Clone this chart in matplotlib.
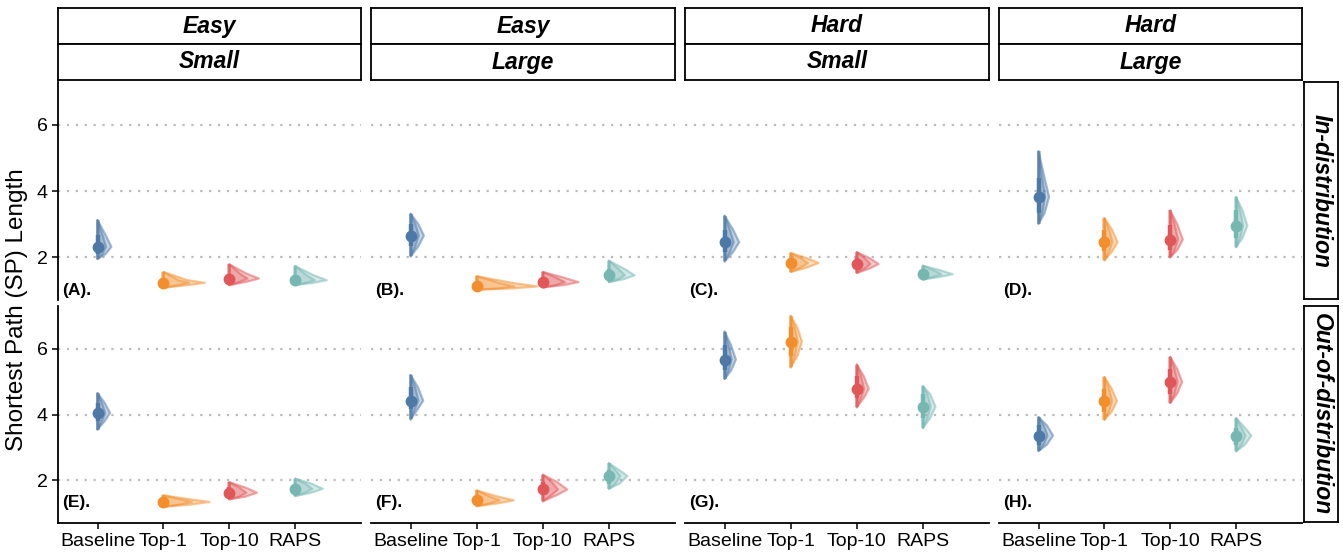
import matplotlib
matplotlib.use("Agg")
import matplotlib.pyplot as plt
from matplotlib.patches import Polygon

plt.rcParams['font.family'] = ['Liberation Sans', 'DejaVu Sans']

methods = ["Baseline", "Top-1", "Top-10", "RAPS"]
colors = ["#4E79A7", "#F28E2B", "#E15759", "#76B7B2"]
col_top = ["Easy", "Easy", "Hard", "Hard"]
col_bottom = ["Small", "Large", "Small", "Large"]
row_names = ["In-distribution", "Out-of-distribution"]
panel_tags = ["(A).", "(B).", "(C).", "(D).", "(E).", "(F).", "(G).", "(H)."]

# per panel (A..H), per method: median, 66% and 95% intervals
median = [
    [2.31, 1.22, 1.35, 1.30],
    [2.65, 1.11, 1.24, 1.45],
    [2.45, 1.82, 1.79, 1.48],
    [3.82, 2.45, 2.53, 2.95],
    [4.05, 1.34, 1.62, 1.74],
    [4.42, 1.39, 1.72, 2.13],
    [5.67, 6.22, 4.78, 4.24],
    [3.36, 4.41, 4.99, 3.36],
]
lo66 = [
    [2.09, 1.15, 1.25, 1.22],
    [2.32, 1.05, 1.15, 1.33],
    [2.15, 1.68, 1.65, 1.40],
    [3.33, 2.17, 2.22, 2.58],
    [3.80, 1.26, 1.50, 1.62],
    [4.17, 1.30, 1.55, 1.90],
    [5.34, 5.77, 4.50, 3.89],
    [3.08, 4.08, 4.63, 3.08],
]
hi66 = [
    [2.67, 1.30, 1.50, 1.45],
    [3.00, 1.22, 1.38, 1.65],
    [2.83, 1.97, 1.97, 1.60],
    [4.39, 2.83, 2.98, 3.41],
    [4.35, 1.42, 1.78, 1.90],
    [4.83, 1.50, 1.95, 2.30],
    [6.10, 6.65, 5.17, 4.62],
    [3.67, 4.79, 5.39, 3.60],
]
lo95 = [
    [1.94, 1.07, 1.15, 1.15],
    [2.02, 1.01, 1.08, 1.24],
    [1.87, 1.55, 1.52, 1.32],
    [3.01, 1.90, 1.99, 2.30],
    [3.54, 1.19, 1.42, 1.52],
    [3.85, 1.21, 1.36, 1.74],
    [5.08, 5.43, 4.22, 3.59],
    [2.89, 3.84, 4.35, 2.88],
]
hi95 = [
    [3.12, 1.55, 1.78, 1.73],
    [3.31, 1.42, 1.55, 1.89],
    [3.25, 2.12, 2.15, 1.74],
    [5.20, 3.18, 3.41, 3.82],
    [4.65, 1.54, 1.94, 2.05],
    [5.20, 1.69, 2.17, 2.52],
    [6.52, 7.00, 5.52, 4.86],
    [3.92, 5.14, 5.75, 3.89],
]
# peak height of each density slab (in x-axis units)
slab_peak = [
    [0.21, 0.63, 0.45, 0.48],
    [0.20, 0.92, 0.54, 0.39],
    [0.22, 0.42, 0.33, 0.45],
    [0.16, 0.20, 0.19, 0.17],
    [0.19, 0.70, 0.42, 0.42],
    [0.19, 0.56, 0.37, 0.28],
    [0.17, 0.17, 0.18, 0.19],
    [0.22, 0.19, 0.18, 0.23],
]

W, H = 1343, 552
def box(x0, y0, x1, y1):
    return [x0 / W, 1 - y1 / H, (x1 - x0) / W, (y1 - y0) / H]

col_x = [(58, 361), (371, 675), (685, 989), (999, 1302)]
row_y = [(82, 300), (306, 523)]

fig = plt.figure(figsize=(W / 100, H / 100), dpi=100)

def strip(rect, text, rotation=0):
    s = fig.add_axes(rect)
    s.set_xticks([])
    s.set_yticks([])
    for sp in s.spines.values():
        sp.set_linewidth(1.3)
        sp.set_color("black")
    s.text(0.5, 0.5, text, transform=s.transAxes, ha="center", va="center",
           fontsize=16.5, fontweight="bold", fontstyle="italic", rotation=rotation)

for c in range(4):
    x0, x1 = col_x[c]
    strip(box(x0, 8, x1, 44), col_top[c])
    strip(box(x0, 44, x1, 80), col_bottom[c])
for r in range(2):
    y0, y1 = row_y[r]
    strip(box(1304, y0, 1338, y1 - 1), row_names[r], rotation=270)

for r in range(2):
    for c in range(4):
        p = r * 4 + c
        ax = fig.add_axes(box(col_x[c][0], row_y[r][0], col_x[c][1], row_y[r][1]))
        ax.set_xlim(0.4, 5.0)
        ax.set_ylim(0.7, 7.3)
        ax.set_yticks([2, 4, 6])
        ax.yaxis.grid(True, color="#BBBBBB", linestyle=(0, (1, 3)), linewidth=1.6)
        ax.set_axisbelow(True)
        for sp in ["top", "right"]:
            ax.spines[sp].set_visible(False)
        ax.spines["left"].set_visible(c == 0)
        ax.spines["bottom"].set_visible(r == 1)
        ax.spines["left"].set_linewidth(1.3)
        ax.spines["bottom"].set_linewidth(1.3)
        ax.tick_params(axis="both", labelsize=14, width=1.1, length=4, colors="black")
        if c > 0:
            ax.tick_params(axis="y", left=False, labelleft=False)
        ax.set_xticks(range(1, 5))
        if r == 1:
            ax.set_xticklabels(methods)
        else:
            ax.tick_params(axis="x", bottom=False, labelbottom=False)

        for i in range(4):
            xc = i + 1
            col = colors[i]
            w = slab_peak[p][i]
            ys = [lo95[p][i], lo66[p][i], median[p][i], hi66[p][i], hi95[p][i]]
            for frac in (1.0, 0.62):
                xs = [xc, xc + 0.58 * w * frac, xc + w * frac, xc + 0.58 * w * frac, xc]
                ax.add_patch(Polygon(list(zip(xs, ys)), closed=True, facecolor=col,
                                     alpha=0.3, edgecolor="none", zorder=2))
                ax.add_patch(Polygon(list(zip(xs, ys)), closed=True, facecolor="none",
                                     edgecolor=col, alpha=0.5, linewidth=1.6,
                                     joinstyle="round", zorder=2))
            ax.plot([xc, xc], [lo95[p][i], hi95[p][i]], color=col, alpha=0.55,
                    linewidth=2.6, solid_capstyle="butt", zorder=3)
            ax.plot([xc, xc], [lo66[p][i], hi66[p][i]], color=col,
                    linewidth=3.2, solid_capstyle="butt", zorder=4)
            ax.plot(xc, median[p][i], "o", color=col, markersize=7.5, zorder=5)

        ax.text(0.46, 1.0 if r == 0 else 1.33, panel_tags[p], fontsize=12.5,
                fontweight="bold", ha="left", va="center")

fig.text(17 / W, 1 - 310 / H, "Shortest Path (SP) Length", rotation=90,
         ha="center", va="center", fontsize=17.5)

fig.savefig("out.png", dpi=100)
